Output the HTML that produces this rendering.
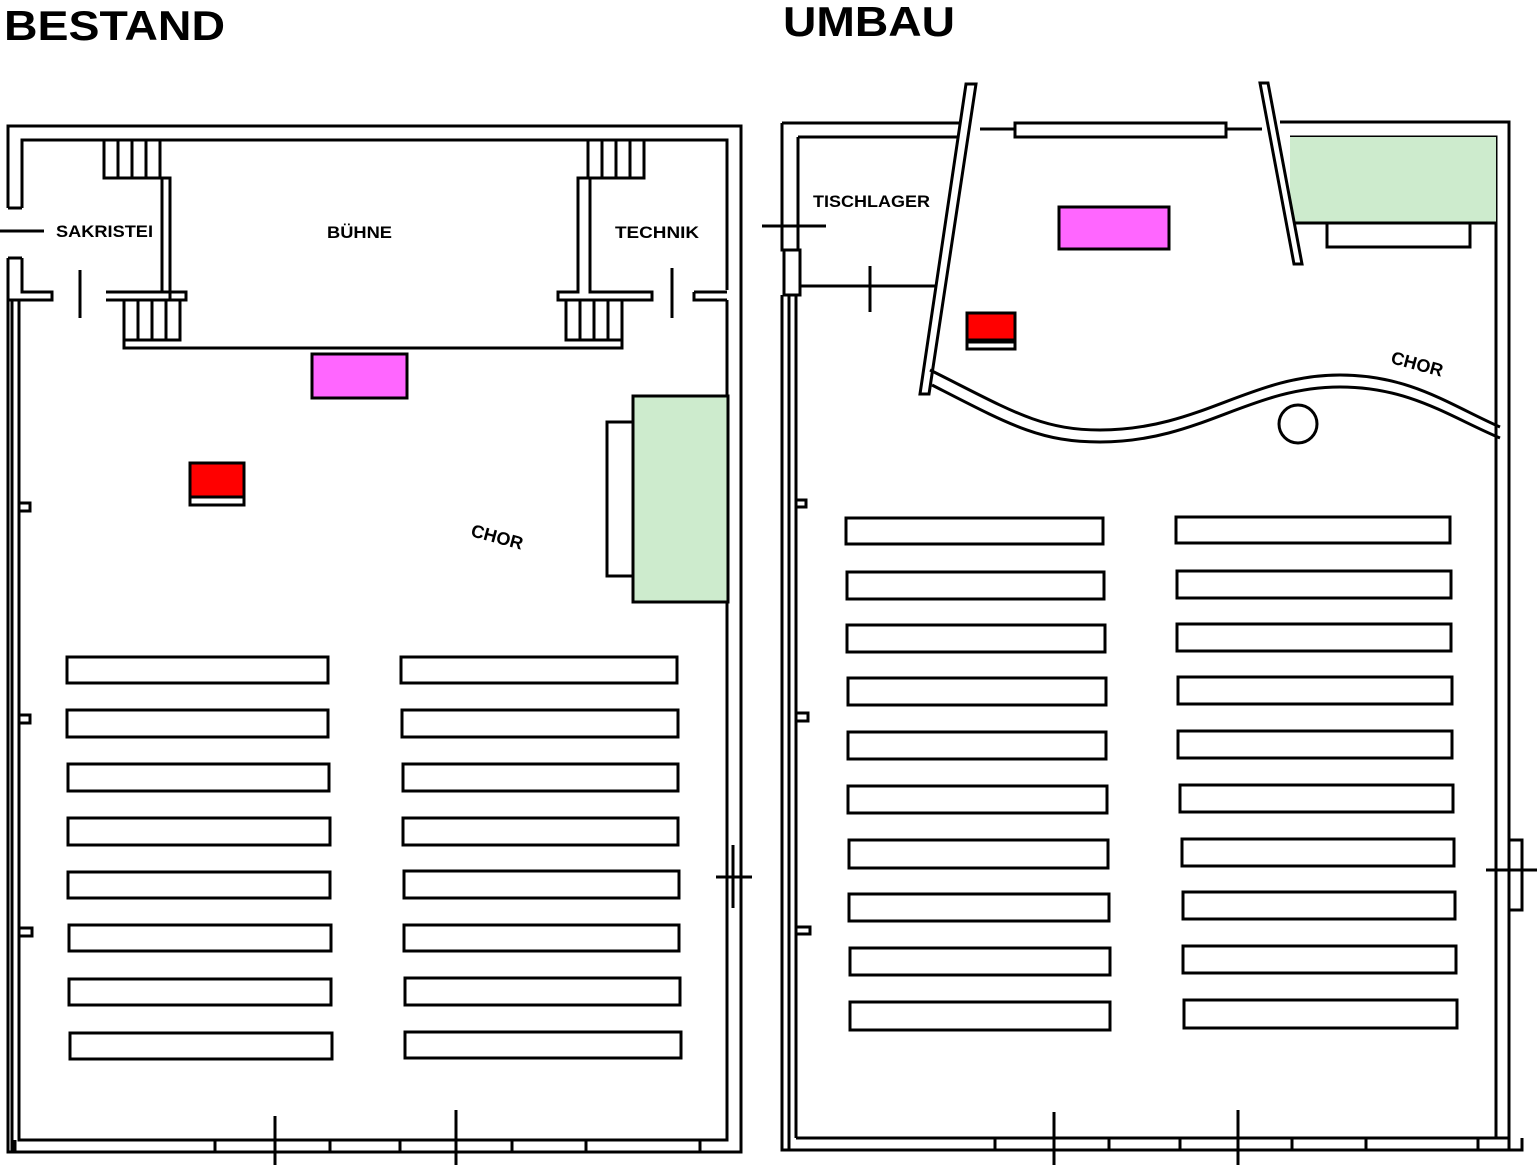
<!DOCTYPE html>
<html><head><meta charset="utf-8"><style>
html,body{margin:0;padding:0;background:#fff;}
svg{display:block}
text{font-family:"Liberation Sans",sans-serif;font-weight:bold;fill:#000}
</style></head><body>
<svg width="1537" height="1165" viewBox="0 0 1537 1165" xmlns="http://www.w3.org/2000/svg">
<g fill="none" stroke="#000" stroke-width="3">
<text x="4" y="40" font-size="42" stroke="none" textLength="221" lengthAdjust="spacingAndGlyphs">BESTAND</text>
<text x="783" y="36" font-size="42" stroke="none" textLength="172" lengthAdjust="spacingAndGlyphs">UMBAU</text>

<!-- LEFT BUILDING -->
<path d="M8,208 V126 H741 V1152 H8 V300"/>
<path d="M22,208 V140 H727 V290"/>
<path d="M8,208 H22 M8,258 H22 M8,258 V300 H52 V292 H22 V258"/>
<path d="M727,300 V1140 H19 V300"/>
<line x1="12" y1="300" x2="12" y2="1152"/>
<path d="M0,231 H44"/>
<path d="M22,292 H52 M106,292 H186 V300 H170 V178 H162 V292"/>
<path d="M106,300 H186"/>
<path d="M160,140 V178 H170"/>
<path d="M104,140 V178 H160 M118,140 V178 M132,140 V178 M146,140 V178"/>
<path d="M124,300 V340 H180 V300 M138,300 V340 M152,300 V340 M166,300 V340"/>
<path d="M124,340 V348 H622 V340"/>
<path d="M588,140 V178 H644 V140 M602,140 V178 M616,140 V178 M630,140 V178"/>
<path d="M588,178 H578 V292 H558 V300 H652 V292 H590 V178"/>
<path d="M566,300 V340 H622 V300 M580,300 V340 M594,300 V340 M608,300 V340"/>
<path d="M694,292 H727 M694,292 V300 H727"/>
<line x1="672" y1="268" x2="672" y2="318"/>
<line x1="80" y1="270" x2="80" y2="318"/>
<path d="M733,845 V908 M741,845 V908 M716,877 H752"/>
<path d="M15,1140 V1152 M215,1140 V1152 M330,1140 H400 V1152 M330,1140 V1152 M512,1140 H700 V1152 M512,1140 V1152 M586,1140 V1152"/>
<line x1="275" y1="1116" x2="275" y2="1165"/>
<line x1="456" y1="1110" x2="456" y2="1165"/>
<path d="M20,503 H30 V511 H20 M20,715 H30 V723 H20 M20,928 H32 V936 H20"/>
<rect x="312" y="354" width="95" height="44" fill="#ff66ff"/>
<rect x="190" y="463" width="54" height="34" fill="#ff0000"/>
<rect x="190" y="497" width="54" height="8" fill="#fff"/>
<rect x="633" y="396" width="95" height="206" fill="#cdebcd"/>
<rect x="607" y="422" width="26" height="154"/>
<g fill="#fff">
<rect x="67" y="657" width="261" height="26"/><rect x="401" y="657" width="276" height="26"/>
<rect x="67" y="710" width="261" height="27"/><rect x="402" y="710" width="276" height="27"/>
<rect x="68" y="764" width="261" height="27"/><rect x="403" y="764" width="275" height="27"/>
<rect x="68" y="818" width="262" height="27"/><rect x="403" y="818" width="275" height="27"/>
<rect x="68" y="872" width="262" height="26"/><rect x="404" y="871" width="275" height="27"/>
<rect x="69" y="925" width="262" height="26"/><rect x="404" y="925" width="275" height="26"/>
<rect x="69" y="979" width="262" height="26"/><rect x="405" y="978" width="275" height="27"/>
<rect x="70" y="1033" width="262" height="26"/><rect x="405" y="1032" width="276" height="26"/>
</g>
<text x="56" y="237" font-size="17" stroke="none" textLength="97" lengthAdjust="spacingAndGlyphs">SAKRISTEI</text>
<text x="327" y="238" font-size="17" stroke="none" textLength="65" lengthAdjust="spacingAndGlyphs">BÜHNE</text>
<text x="615" y="238" font-size="17" stroke="none" textLength="84" lengthAdjust="spacingAndGlyphs">TECHNIK</text>
<text x="470" y="536" font-size="18" stroke="none" transform="rotate(15 470 536)">CHOR</text>

<!-- RIGHT BUILDING -->
<path d="M782,123 H965 M980,129 H1015 M1226,129 H1262 M1280,122 H1509 V1138"/>
<path d="M798,137 H960 M1290,137 H1496 V1126"/>
<path d="M782,123 V250 H798 V137 M798,213 V250"/>
<path d="M782,295 V1150 H1522 V1138"/>
<path d="M1522,1138 V1150"/>
<path d="M1509,1138 V1150"/>
<line x1="789" y1="295" x2="789" y2="1150"/>
<line x1="796" y1="295" x2="796" y2="1138"/>
<path d="M796,1138 H1509"/>
<path d="M1496,1126 V1138"/>
<rect x="784" y="250" width="16" height="45" fill="#fff"/>
<path d="M762,226 H826"/>
<path d="M800,286 H937"/>
<line x1="870" y1="266" x2="870" y2="312"/>
<rect x="1015" y="123" width="211" height="14" fill="#fff"/>
<rect x="1290" y="137" width="206" height="85" fill="#cdebcd" stroke="none"/>
<path d="M1290,223 H1496"/>
<rect x="1327" y="223" width="143" height="24" fill="#fff"/>
<rect x="1059" y="207" width="110" height="42" fill="#ff66ff"/>
<rect x="967" y="313" width="48" height="27" fill="#ff0000"/>
<rect x="967" y="342" width="48" height="7" fill="#fff"/>
<polygon points="966,84 976,84 929,394 920,394" fill="#fff"/>
<polygon points="1260,83 1268,83 1302,264 1294,264" fill="#fff"/>
<path d="M930,370 C1010,410 1040,430 1100,430 C1200,430 1250,375 1340,375 C1410,375 1450,405 1500,427"/>
<path d="M932,385 C1010,425 1040,442 1100,442 C1200,442 1250,387 1340,387 C1410,387 1450,417 1500,438"/>
<circle cx="1298" cy="424" r="19"/>
<path d="M796,500 H806 V507 H796 M796,713 H808 V721 H796 M796,927 H810 V934 H796"/>
<path d="M1486,870 H1537 M1509,840 H1522 V910 H1509"/>
<path d="M995,1138 V1150 M1109,1138 H1180 V1150 M1109,1138 V1150 M1292,1138 H1478 V1150 M1292,1138 V1150 M1366,1138 V1150"/>
<line x1="1054" y1="1112" x2="1054" y2="1165"/>
<line x1="1238" y1="1110" x2="1238" y2="1165"/>
<g fill="#fff">
<rect x="846" y="518" width="257" height="26"/><rect x="1176" y="517" width="274" height="26"/>
<rect x="847" y="572" width="257" height="27"/><rect x="1177" y="571" width="274" height="27"/>
<rect x="847" y="625" width="258" height="27"/><rect x="1177" y="624" width="274" height="27"/>
<rect x="848" y="678" width="258" height="27"/><rect x="1178" y="677" width="274" height="27"/>
<rect x="848" y="732" width="258" height="27"/><rect x="1178" y="731" width="274" height="27"/>
<rect x="848" y="786" width="259" height="27"/><rect x="1180" y="785" width="273" height="27"/>
<rect x="849" y="840" width="259" height="28"/><rect x="1182" y="839" width="272" height="27"/>
<rect x="849" y="894" width="260" height="27"/><rect x="1183" y="892" width="272" height="27"/>
<rect x="850" y="948" width="260" height="27"/><rect x="1183" y="946" width="273" height="27"/>
<rect x="850" y="1002" width="260" height="28"/><rect x="1184" y="1000" width="273" height="28"/>
</g>
<text x="813" y="207" font-size="17" stroke="none" textLength="117" lengthAdjust="spacingAndGlyphs">TISCHLAGER</text>
<text x="1390" y="363" font-size="18" stroke="none" transform="rotate(15 1390 363)">CHOR</text>
</g>
</svg>
</body></html>
